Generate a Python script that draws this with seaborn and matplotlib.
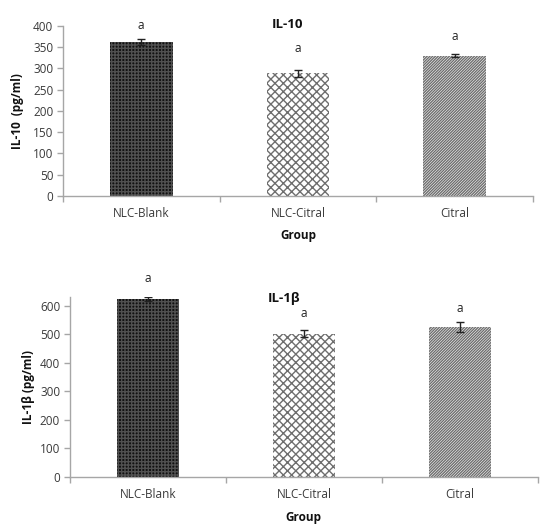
import matplotlib
matplotlib.use("Agg")
import matplotlib.pyplot as plt
import seaborn as sns
import pandas as pd
import numpy as np

groups = ["NLC-Blank", "NLC-Citral", "Citral"]
il10_mean = [363, 289, 330]
il10_err = [7, 8, 3]
il10_letters = ["a", "a", "a"]
il10_letter_y = [402, 346, 374]
il1b_mean = [624, 503, 526]
il1b_err = [7, 12, 16]
il1b_letters = ["a", "a", "a"]
il1b_letter_y = [697, 574, 592]

sns.set_theme(style="white")
plt.rcParams['font.family'] = ['Open Sans', 'DejaVu Sans']
plt.rcParams['hatch.linewidth'] = 1.0

fig = plt.figure(figsize=(5.5, 5.29), dpi=100)
ax1 = fig.add_axes([0.1145, 0.6295, 0.8545, 0.3215])
ax2 = fig.add_axes([0.127, 0.0989, 0.851, 0.340])

face = ["#111111", "white", "white"]
hatch = ["+++++", "xxxx", "////////////"]
hcol = ["#505050", "#6e6e6e", "#6e6e6e"]
spine_c = "#a6a6a6"
text_c = "#3a3a3a"


def panel(ax, means, errs, letters, letter_y, ylim, yticks, title, title_xy, ylabel, ylab_x, xlab_y):
    df = pd.DataFrame({"Group": groups, "Value": means})
    sns.barplot(data=df, x="Group", y="Value", ax=ax, width=0.4, errorbar=None,
                color="white", linewidth=0)
    for p, f, h, hc in zip(ax.patches, face, hatch, hcol):
        p.set_facecolor(f)
        p.set_hatch(h)
        p.set_edgecolor(hc)
        p.set_linewidth(0)
    xs = np.arange(len(groups))
    ax.errorbar(xs, means, yerr=errs, fmt="none", ecolor="#222222", elinewidth=1,
                capsize=3, capthick=1)
    for x, l, ly in zip(xs, letters, letter_y):
        ax.text(x, ly, l, ha="center", va="center", fontsize=8.5, color="#222222",
                clip_on=False)
    ax.set_xlim(-0.5, 2.5)
    ax.set_ylim(*ylim)
    ax.set_yticks(yticks)
    ax.set_xticks(xs)
    ax.set_xticks([-0.5, 0.5, 1.5, 2.5], minor=True)
    ax.set_xticklabels(groups)
    for s in ["top", "right"]:
        ax.spines[s].set_visible(False)
    for s in ["left", "bottom"]:
        ax.spines[s].set_color(spine_c)
        ax.spines[s].set_linewidth(1)
    ax.tick_params(axis="x", which="major", length=0, labelsize=8.5, labelcolor=text_c, pad=8)
    ax.tick_params(axis="x", which="minor", length=4, width=1, color=spine_c, direction="out", bottom=True)
    ax.tick_params(axis="y", length=4, width=1, color=spine_c, direction="out", left=True,
                   labelsize=8.5, labelcolor=text_c, pad=3)
    ax.set_xlabel("Group", fontsize=8.5, fontweight="bold", color="#111111")
    ax.xaxis.set_label_coords(0.5, xlab_y)
    ax.set_ylabel(ylabel, fontsize=8.5, fontweight="bold", color="#111111")
    ax.yaxis.set_label_coords(ylab_x, 0.5)
    ax.text(title_xy[0], title_xy[1], title, transform=ax.transAxes, ha="center", va="center",
            fontsize=9.5, fontweight="bold", color="#111111")


panel(ax1, il10_mean, il10_err, il10_letters, il10_letter_y, (0, 400), range(0, 401, 50),
      "IL-10", (0.477, 1.01), "IL-10  (pg/ml)", -0.083, -0.195)
panel(ax2, il1b_mean, il1b_err, il1b_letters, il1b_letter_y, (0, 632), range(0, 601, 100),
      "IL-1β", (0.457, 0.99), "IL-1β (pg/ml)", -0.075, -0.19)

fig.savefig("out.png", dpi=100)
